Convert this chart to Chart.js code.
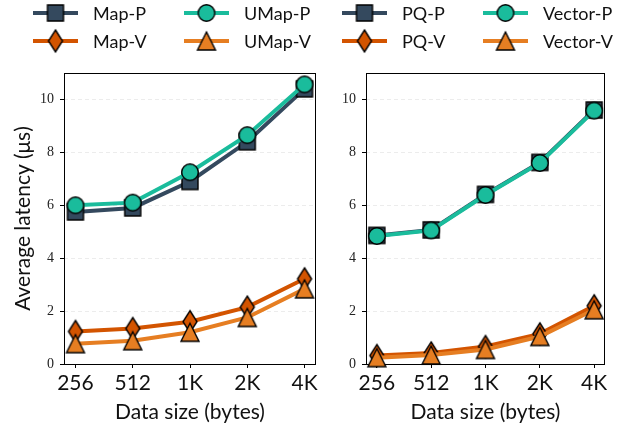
<!DOCTYPE html>
<html>
<head>
<meta charset="utf-8">
<script src="https://cdn.jsdelivr.net/npm/chart.js@4"></script>
<style>
  body { margin: 0; background: #fff; }
  #wrap { position: relative; width: 618px; height: 430px; }
  canvas { position: absolute; left: 0; top: 0; }
</style>
</head>
<body>
<div id="wrap">
  <canvas id="left" width="618" height="430"></canvas>
  <canvas id="right" width="618" height="430"></canvas>
</div>
<script>
// data
const categories = ['256', '512', '1K', '2K', '4K'];
const yTicks = [0, 2, 4, 6, 8, 10];

const mapP = [5.75, 5.9, 6.9, 8.4, 10.4];
const umapP = [6.0, 6.1, 7.25, 8.65, 10.57];
const mapV = [1.23, 1.34, 1.6, 2.15, 3.22];
const umapV = [0.77, 0.88, 1.2, 1.76, 2.84];

const pqP = [4.86, 5.07, 6.41, 7.62, 9.6];
const vectorP = [4.84, 5.05, 6.39, 7.6, 9.58];
const pqV = [0.32, 0.42, 0.66, 1.14, 2.2];
const vectorV = [0.24, 0.34, 0.55, 1.04, 2.05];

const navy = '#34495e', teal = '#1abc9c', rust = '#d35400', orange = '#e67e22';
const sans = 'Lato';

// marker images
function marker(shape, fill) {
  const c = document.createElement('canvas');
  c.width = 24; c.height = 26;
  const g = c.getContext('2d');
  g.fillStyle = fill;
  g.strokeStyle = '#000';
  g.lineWidth = 1.4;
  g.beginPath();
  if (shape == 'square') g.rect(4, 5, 16, 16);
  if (shape == 'circle') g.arc(12, 13, 8.3, 0, Math.PI * 2);
  if (shape == 'diamond') { g.moveTo(12, 2); g.lineTo(19, 13); g.lineTo(12, 24); g.lineTo(5, 13); g.closePath(); }
  if (shape == 'triangle') { g.moveTo(12, 4); g.lineTo(21, 22); g.lineTo(3, 22); g.closePath(); }
  g.fill();
  g.stroke();
  return c;
}

function series(label, values, color, shape, order) {
  return {
    label: label,
    data: values.map((v, i) => ({ x: i, y: v })),
    borderColor: color,
    backgroundColor: color,
    borderWidth: 4,
    pointStyle: marker(shape, color),
    pointRadius: 9,
    pointHoverRadius: 9,
    tension: 0,
    clip: false,
    order: order
  };
}

// legend drawn in the page header, slots in page pixels
const legendPlugin = {
  id: 'sideLegend',
  afterDraw(chart, args, opts) {
    const ctx = chart.ctx;
    chart.data.datasets.forEach((ds, i) => {
      const s = opts.slots[i];
      ctx.save();
      ctx.strokeStyle = ds.borderColor;
      ctx.lineWidth = 4;
      ctx.beginPath();
      ctx.moveTo(s.x, s.y);
      ctx.lineTo(s.x + 45, s.y);
      ctx.stroke();
      const img = ds.pointStyle;
      ctx.drawImage(img, s.x + 22.5 - img.width / 2, s.y - img.height / 2);
      ctx.fillStyle = '#111';
      ctx.font = '18px ' + sans;
      ctx.textBaseline = 'middle';
      ctx.fillText(ds.label, s.x + 60, s.y + 1);
      ctx.restore();
    });
  }
};

const framePlugin = {
  id: 'frame',
  beforeDatasetsDraw(chart) {
    const a = chart.chartArea, ctx = chart.ctx;
    ctx.save();
    ctx.strokeStyle = '#000';
    ctx.lineWidth = 1;
    ctx.strokeRect(a.left + 0.5, a.top + 0.5, a.right - a.left - 1, a.bottom - a.top);
    ctx.restore();
  }
};

function makeChart(id, datasets, slots, padLeft, padRight, yWidth, showTitle) {
  return new Chart(document.getElementById(id), {
    type: 'line',
    data: { datasets: datasets },
    plugins: [legendPlugin, framePlugin],
    options: {
      responsive: false,
      animation: false,
      devicePixelRatio: 1,
      layout: { padding: { left: padLeft, right: padRight, top: 73, bottom: 0 } },
      plugins: {
        legend: { display: false },
        tooltip: { enabled: false },
        sideLegend: { slots: slots }
      },
      scales: {
        x: {
          type: 'linear',
          min: -0.2,
          max: 4.2,
          afterBuildTicks: (s) => { s.ticks = categories.map((c, i) => ({ value: i })); },
          afterFit: (s) => { s.height = 66; },
          ticks: {
            callback: (v) => categories[v],
            color: '#111',
            font: { family: sans, size: 21 },
            padding: 3,
            maxRotation: 0
          },
          grid: { drawOnChartArea: false, drawTicks: true, tickLength: 4, tickColor: '#000' },
          border: { display: false },
          title: {
            display: true,
            text: 'Data size (bytes)',
            color: '#111',
            font: { family: sans, size: 21 },
            padding: { top: 0, bottom: 5 }
          }
        },
        y: {
          min: 0,
          max: 11,
          afterBuildTicks: (s) => { s.ticks = yTicks.map(v => ({ value: v })); },
          afterFit: (s) => { s.width = yWidth; },
          ticks: {
            color: '#222',
            font: { family: 'Liberation Serif', size: 14 },
            padding: 6
          },
          grid: { color: '#ececec', lineWidth: 1, tickLength: 4, tickColor: '#000', tickBorderDash: [] },
          border: { display: false, dash: [4, 3] },
          title: {
            display: showTitle,
            text: 'Average latency (μs)',
            color: '#111',
            font: { family: sans, size: 21 },
            padding: { top: 11, bottom: 0 }
          }
        }
      }
    }
  });
}

makeChart('left', [
  series('Map-P', mapP, navy, 'square', 4),
  series('UMap-P', umapP, teal, 'circle', 3),
  series('Map-V', mapV, rust, 'diamond', 2),
  series('UMap-V', umapV, orange, 'triangle', 1)
], [
  { x: 33, y: 13 }, { x: 184, y: 13 }, { x: 33, y: 41 }, { x: 184, y: 41 }
], 0, 302, 64, true);

makeChart('right', [
  series('PQ-P', pqP, navy, 'square', 4),
  series('Vector-P', vectorP, teal, 'circle', 3),
  series('PQ-V', pqV, rust, 'diamond', 2),
  series('Vector-V', vectorV, orange, 'triangle', 1)
], [
  { x: 342, y: 13 }, { x: 483, y: 13 }, { x: 342, y: 41 }, { x: 483, y: 41 }
], 330, 1, 36, false);
</script>
</body>
</html>
